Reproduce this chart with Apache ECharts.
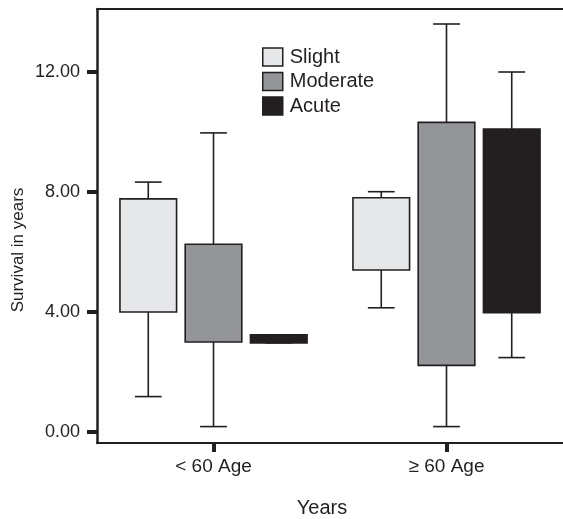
<!DOCTYPE html>
<html>
<head>
<meta charset="utf-8">
<script src="https://cdn.jsdelivr.net/npm/echarts@6/dist/echarts.min.js"></script>
<style>
html,body{margin:0;padding:0;background:#fff;}
#chart{width:563px;height:519px;}
</style>
</head>
<body>
<div id="chart"></div>
<script>
// Categories and series: [min, q1, q3, max] per category
const categories = ['< 60 Age', '\u2265 60 Age'];
const seriesNames = ['Slight', 'Moderate', 'Acute'];
const slight   = [[1.18, 4.00, 7.77, 8.33], [4.14, 5.40, 7.81, 8.01]];
const moderate = [[0.18, 3.00, 6.26, 9.97], [0.18, 2.22, 10.32, 13.60]];
const acute    = [[2.97, 2.97, 3.24, 3.24], [2.48, 3.98, 10.10, 12.00]];
const yTicks = [0, 4, 8, 12];

const ink = '#231f20';
const fills = ['#e6e7e8', '#939598', '#231f20'];
const offsets = [-0.28, 0, 0.28];
const FONT = 'Liberation Sans, Arial, Helvetica, sans-serif';

function makeRender(offsetFrac) {
  return function (params, api) {
    const cat = api.value(0);
    const bw = api.size([1, 0])[0];
    const cx = api.coord([cat, 0])[0] + offsetFrac * bw;
    const boxW = 0.243 * bw;
    const capW = 0.115 * bw;
    const yMin = api.coord([cat, api.value(1)])[1];
    const yQ1 = api.coord([cat, api.value(2)])[1];
    const yQ3 = api.coord([cat, api.value(3)])[1];
    const yMax = api.coord([cat, api.value(4)])[1];
    const st = api.style();
    const ls = { stroke: ink, lineWidth: 1.6 };
    return {
      type: 'group',
      children: [
        { type: 'line', shape: { x1: cx, y1: yMax, x2: cx, y2: yQ3 }, style: ls },
        { type: 'line', shape: { x1: cx - capW / 2, y1: yMax, x2: cx + capW / 2, y2: yMax }, style: ls },
        { type: 'line', shape: { x1: cx, y1: yQ1, x2: cx, y2: yMin }, style: ls },
        { type: 'line', shape: { x1: cx - capW / 2, y1: yMin, x2: cx + capW / 2, y2: yMin }, style: ls },
        { type: 'rect', shape: { x: cx - boxW / 2, y: yQ3, width: boxW, height: yQ1 - yQ3 },
          style: { fill: st.fill, stroke: ink, lineWidth: 1.6 } }
      ]
    };
  };
}

const allData = [slight, moderate, acute];
const series = seriesNames.map((name, si) => ({
  name: name,
  type: 'custom',
  renderItem: makeRender(offsets[si]),
  itemStyle: { color: fills[si], borderColor: ink, borderWidth: 1.5 },
  encode: { x: 0, y: [1, 2, 3, 4] },
  data: allData[si].map((d, i) => [i].concat(d)),
  clip: false,
  z: 3
}));

const chart = echarts.init(document.getElementById('chart'));
chart.setOption({
  animation: false,
  backgroundColor: '#fff',
  textStyle: { fontFamily: FONT },
  grid: { left: 97, top: 9, width: 469, height: 434, show: false },
  legend: {
    orient: 'vertical',
    left: 262, top: 47,
    itemWidth: 20, itemHeight: 18, itemGap: 4.5,
    padding: 0,
    selectedMode: false,
    textStyle: { fontSize: 20, lineHeight: 18, color: ink, fontFamily: FONT, padding: [0, 0, 0, 2] },
    data: seriesNames.map((n, i) => ({
      name: n, icon: 'rect',
      itemStyle: { color: fills[i], borderColor: ink, borderWidth: 1.5 }
    }))
  },
  xAxis: [{
    type: 'category',
    data: categories,
    position: 'bottom',
    axisLine: { show: true, onZero: false, lineStyle: { color: ink, width: 2 } },
    axisTick: { show: true, alignWithLabel: true, length: 9, lineStyle: { color: ink, width: 4 } },
    axisLabel: { fontSize: 19, color: ink, margin: 14, fontFamily: FONT },
    splitLine: { show: false }
  }, {
    type: 'category',
    data: categories,
    position: 'top',
    axisLine: { show: true, onZero: false, lineStyle: { color: ink, width: 2 } },
    axisTick: { show: false },
    axisLabel: { show: false },
    splitLine: { show: false }
  }],
  yAxis: {
    type: 'value',
    min: -0.367,
    max: 14.1,
    axisLine: { show: true, onZero: false, lineStyle: { color: ink, width: 2.5 } },
    axisTick: { show: true, length: 10, customValues: yTicks, lineStyle: { color: ink, width: 4 } },
    axisLabel: {
      fontSize: 18, color: ink, margin: 17, customValues: yTicks,
      formatter: v => Number(v).toFixed(2),
      fontFamily: FONT
    },
    splitLine: { show: false }
  },
  graphic: [
    { type: 'text', x: 18, y: 250, rotation: Math.PI / 2,
      style: { text: 'Survival in years', fontSize: 17, fill: ink, align: 'center', verticalAlign: 'middle',
               fontFamily: FONT } },
    { type: 'text', x: 322, y: 508,
      style: { text: 'Years', fontSize: 20, fill: ink, align: 'center', verticalAlign: 'middle',
               fontFamily: FONT } }
  ],
  series: series
});
</script>
</body>
</html>
